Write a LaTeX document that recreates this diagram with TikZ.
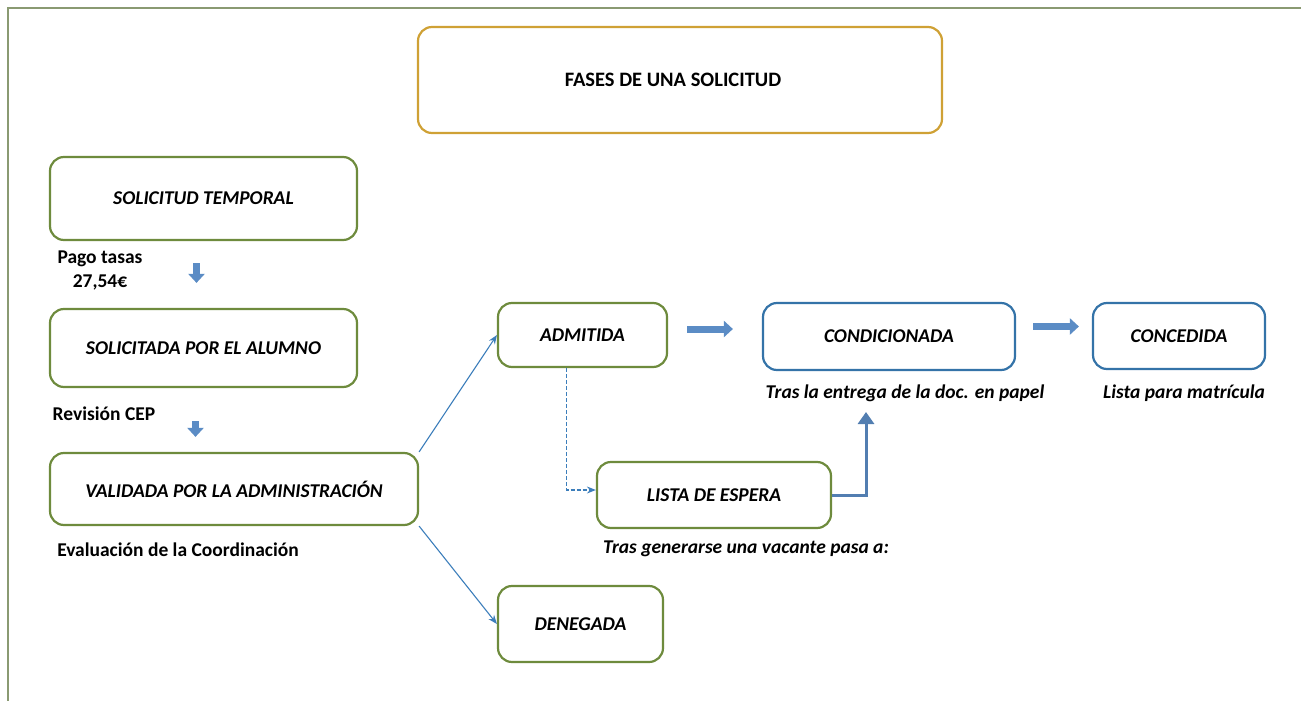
\documentclass[tikz,border=0pt]{standalone}
\usepackage{fontspec}
\setmainfont{Carlito}
\usetikzlibrary{arrows.meta}
\definecolor{boxgreen}{HTML}{6E8B3D}
\definecolor{boxgold}{HTML}{CFA135}
\definecolor{boxblue}{HTML}{3473A8}
\definecolor{arrowblue}{HTML}{5B8CC5}
\definecolor{linkblue}{HTML}{3C7EBB}
\definecolor{framegreen}{HTML}{8A9A72}

\begin{document}
\begin{tikzpicture}[x=1pt,y=-1pt,
        phase/.style={draw=boxgreen,line width=2.2pt,rounded corners=14pt,fill=white,inner sep=0pt,
                      font=\fontsize{19.5}{22}\selectfont\bfseries\itshape},
        bluephase/.style={phase,draw=boxblue},
        note/.style={font=\fontsize{19.5}{24}\selectfont\bfseries},
        inote/.style={font=\fontsize{19.5}{24}\selectfont\bfseries\itshape},
        bigarrow/.style={draw=arrowblue!80!black,line width=7pt,-{Triangle[length=9pt,width=16pt]},arrowblue},
        link/.style={draw=linkblue,line width=1.1pt,-{Stealth[length=9pt,width=7pt]}}]
    \useasboundingbox (0,0) rectangle (1301,701);
    \draw[framegreen,line width=1.5pt] (8,701) -- (8,8) -- (1301,8);

    \node[phase,draw=boxgold,minimum width=524pt,minimum height=106pt,font=\fontsize{20.5}{22}\selectfont\bfseries] (title) at (680,80) {\hspace*{-14pt}FASES DE UNA SOLICITUD};
    \node[phase,minimum width=307pt,minimum height=83pt] (temp) at (203.5,198.5) {SOLICITUD TEMPORAL};
    \node[phase,minimum width=307pt,minimum height=78pt] (alum) at (203.5,348) {SOLICITADA POR EL ALUMNO};
    \node[phase,minimum width=368pt,minimum height=72pt] (vali) at (234,489) {VALIDADA POR LA ADMINISTRACIÓN};
    \node[phase,minimum width=169pt,minimum height=64pt] (adm) at (582.5,335) {ADMITIDA};
    \node[phase,minimum width=234pt,minimum height=66pt] (lista) at (714,495) {LISTA DE ESPERA};
    \node[phase,minimum width=165pt,minimum height=76pt] (den) at (580.5,624) {DENEGADA};
    \node[bluephase,minimum width=252pt,minimum height=67pt] (cond) at (889,336.5) {CONDICIONADA};
    \node[bluephase,minimum width=172pt,minimum height=66pt] (conc) at (1179,336) {CONCEDIDA};

    % textos
    \node[note,align=center] (pago) at (100,270) {Pago tasas\\27,54€};
    \node[note] (rev) at (104,414) {Revisión CEP};
    \node[note] (eval) at (178,550) {Evaluación de la Coordinación};
    \node[inote] (tras1) at (905,393) {Tras la entrega de la doc. en papel};
    \node[inote] (lpm) at (1184,393) {Lista para matrícula};
    \node[inote] (tras2) at (746,549) {Tras generarse una vacante pasa a:};

    \draw[bigarrow,shorten <=22pt,shorten >=25pt] ([xshift=-7pt]temp.south) -- ([xshift=-7pt]alum.north);
    \draw[bigarrow,shorten <=33pt,shorten >=15pt] ([xshift=-8pt]alum.south) -- ([xshift=-8pt]alum.south |- vali.north);
    \draw[bigarrow,shorten <=19pt,shorten >=29pt] ([yshift=6pt]adm.east) -- ([yshift=6pt]adm.east -| cond.west);
    \draw[bigarrow,shorten <=17pt,shorten >=13pt] ([yshift=10pt]cond.east) -- ([yshift=10pt]cond.east -| conc.west);

    \coordinate (up) at (866,412);
    \draw[draw=arrowblue!90!black,line width=3pt,-{Triangle[length=12pt,width=16pt]}] (lista.east) -| (up);
    \draw[link,dashed,dash pattern=on 4pt off 2pt] ([xshift=-16pt]adm.south) |- ([yshift=5pt]lista.west);

    \draw[link] (vali.north east) -- (adm.west);
    \draw[link] (vali.south east) -- (den.west);
\end{tikzpicture}
\end{document}
